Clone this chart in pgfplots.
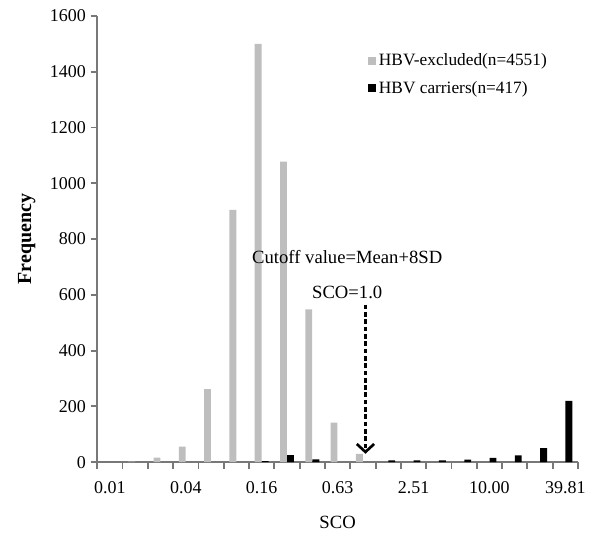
\documentclass[border=0pt]{standalone}
\usepackage{fontspec}
\setmainfont{Liberation Serif}
\usepackage{pgfplots}
\pgfplotsset{compat=1.18}
\usetikzlibrary{arrows.meta}
\definecolor{barGray}{RGB}{190,190,190}
\definecolor{axGray}{RGB}{120,120,120}
\begin{document}
\begin{tikzpicture}
\begin{axis}[
  scale only axis,
  width=361pt, height=335pt,
  axis x line=bottom, axis y line=left,
  axis line style={-, axGray, line width=1.2pt},
  xmin=-0.5, xmax=18.5,
  ymin=0, ymax=1600,
  ytick={0,200,...,1600},
  % category boundaries carry the tick marks; labels are shifted to the centres
  xtick={-0.5,0.5,...,18.5},
  xticklabels={0.01,,,0.04,,,0.16,,,0.63,,,2.51,,,10.00,,,39.81,,},
  xticklabel style={xshift=9.5pt, yshift=-6pt},
  xtick align=outside, ytick align=outside,
  tickwidth=5pt,
  tick style={draw=axGray, line width=1.4pt},
  /pgf/number format/assume math mode=true,
  /pgf/number format/1000 sep={},
  tick label style={font=\fontsize{13.5}{15}\selectfont},
  xlabel={SCO},
  ylabel={\textbf{Frequency}},
  label style={font=\fontsize{14}{16}\selectfont},
  xlabel style={yshift=-10pt},
  ylabel style={yshift=4pt, font=\fontsize{15}{17}\selectfont},
  legend style={draw=none, fill=none, at={(0.555,0.928)}, anchor=north west,
    font=\fontsize{13}{15}\selectfont, row sep=6pt},
  legend cell align=left,
  legend image code/.code={\fill[#1] (0pt,-3pt) rectangle (6pt,3pt);},
]
% HBV-excluded
\addplot[ybar, bar width=0.27, fill=barGray, draw=none, bar shift=-0.14] coordinates {
  (1,2) (2,16) (3,56) (4,262) (5,905) (6,1500) (7,1078) (8,548) (9,142) (10,30)
};
\addlegendentry{HBV-excluded(n=4551)}
% HBV carriers
\addplot[ybar, bar width=0.27, fill=black, draw=none, bar shift=0.14] coordinates {
  (6,4) (7,25) (8,10) (11,6) (12,6) (13,6) (14,9) (15,15) (16,24) (17,50) (18,220)
};
\addlegendentry{HBV carriers(n=417)}

\draw[line width=2pt, dash pattern=on 3.5pt off 2pt, -{Straight Barb[length=6pt,width=13pt]}] (axis cs:10.1,565) -- (axis cs:10.1,30);
\node[font=\fontsize{14}{16}\selectfont] at (axis cs:9.38,735) {Cutoff value=Mean+8SD};
\node[font=\fontsize{14}{16}\selectfont] at (axis cs:9.38,610) {SCO=1.0};
\end{axis}
\pgfresetboundingbox
\path[use as bounding box] (current axis.south west) ++(-73pt,-55pt) rectangle ([shift={(10.5pt,12pt)}]current axis.north east);
\end{tikzpicture}
\end{document}
